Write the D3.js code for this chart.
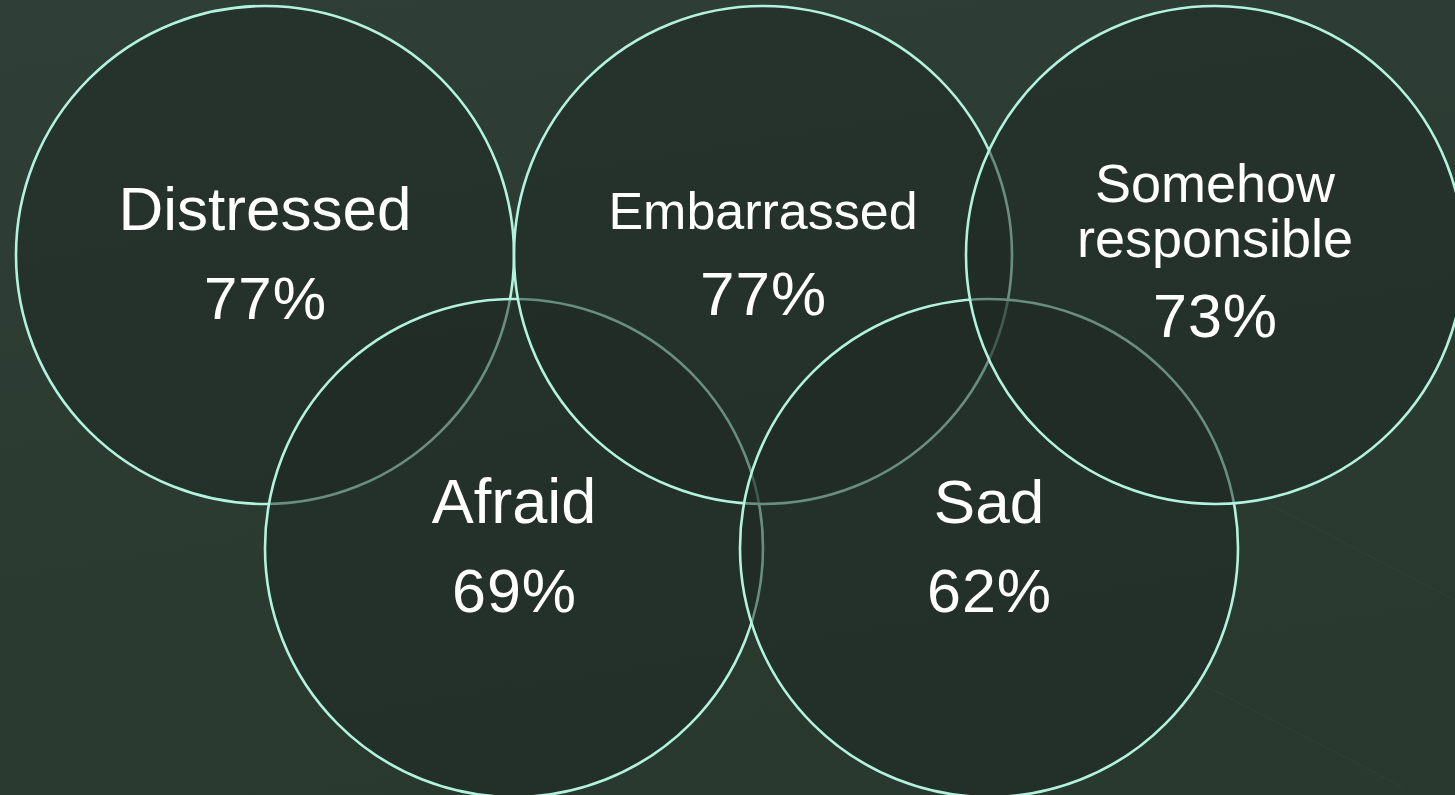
<!DOCTYPE html>
<html>
<head>
<meta charset="utf-8">
<script src="https://cdn.jsdelivr.net/npm/d3@7"></script>
<style>
  html, body { margin: 0; padding: 0; background: #2b3a31; overflow: hidden; }
  svg { display: block; }
</style>
</head>
<body>
<svg id="chart" width="1455" height="795"></svg>
<script>
// ---- data ----
const categories = ["Distressed", "Embarrassed", "Somehow responsible", "Afraid", "Sad"];
const values = [77, 77, 73, 69, 62];
const slots = [0, 1, 2, 0.5, 1.5];      // layout slot along the row
const rows = [0, 0, 0, 1, 1];            // top / bottom row
const labelLines = [["Distressed"], ["Embarrassed"], ["Somehow", "responsible"], ["Afraid"], ["Sad"]];

// ---- styling ----
const W = 1455, H = 795;
const svg = d3.select("#chart");
const defs = svg.append("defs");
const bg = defs.append("linearGradient").attr("id", "bg").attr("x1", 0).attr("y1", 0).attr("x2", 0.3).attr("y2", 1);
bg.append("stop").attr("offset", "0%").attr("stop-color", "#2f3e36");
bg.append("stop").attr("offset", "100%").attr("stop-color", "#29392f");
svg.append("rect").attr("width", W).attr("height", H).attr("fill", "url(#bg)");

// faint decorative lines
svg.append("g").attr("stroke", "#3a4a42").attr("stroke-opacity", 0.4).attr("stroke-width", 1)
  .selectAll("line").data([[1267, 503, 1455, 600], [1200, 683, 1403, 787]]).join("line")
  .attr("x1", d => d[0]).attr("y1", d => d[1]).attr("x2", d => d[2]).attr("y2", d => d[3]);

const x = d3.scaleLinear().domain([0, 1, 2]).range([265, 763, 1215]);
const y = d3.scaleLinear().domain([0, 1]).range([255, 548]);
const r = 249;

const fmt = v => v + "%";

const styles = {
  "Distressed":          { lab: 62, labY: [-25], pct: 60, pctY: 64 },
  "Embarrassed":         { lab: 52, labY: [-26], pct: 62, pctY: 60 },
  "Somehow responsible": { lab: 54, labY: [-53, 2], pct: 61, pctY: 82 },
  "Afraid":              { lab: 63, labY: [-25], pct: 61, pctY: 64 },
  "Sad":                 { lab: 62, labY: [-25], pct: 61, pctY: 64 }
};

const items = categories.map((c, i) => ({ c, v: values[i], slot: slots[i], row: rows[i], lines: labelLines[i] }))
  .sort((a, b) => a.slot - b.slot);

const g = svg.append("g");
items.forEach(d => {
  g.append("circle")
    .attr("cx", x(d.slot)).attr("cy", y(d.row)).attr("r", r)
    .attr("fill", "#1d2823").attr("fill-opacity", 0.5)
    .attr("stroke", "#b2f3df").attr("stroke-width", 2.6);
});

const t = svg.append("g").attr("font-family", "'Liberation Sans', Arial, sans-serif").attr("fill", "#ffffff").attr("text-anchor", "middle");
items.forEach(d => {
  const s = styles[d.c];
  const cx = x(d.slot), cy = y(d.row);
  d.lines.forEach((ln, j) => {
    t.append("text").attr("x", cx).attr("y", cy + s.labY[j])
      .attr("font-size", s.lab)
      .text(ln);
  });
  t.append("text").attr("x", cx + 0.5).attr("y", cy + s.pctY)
    .attr("font-size", s.pct).attr("letter-spacing", 1)
    .text(fmt(d.v));
});
</script>
</body>
</html>
